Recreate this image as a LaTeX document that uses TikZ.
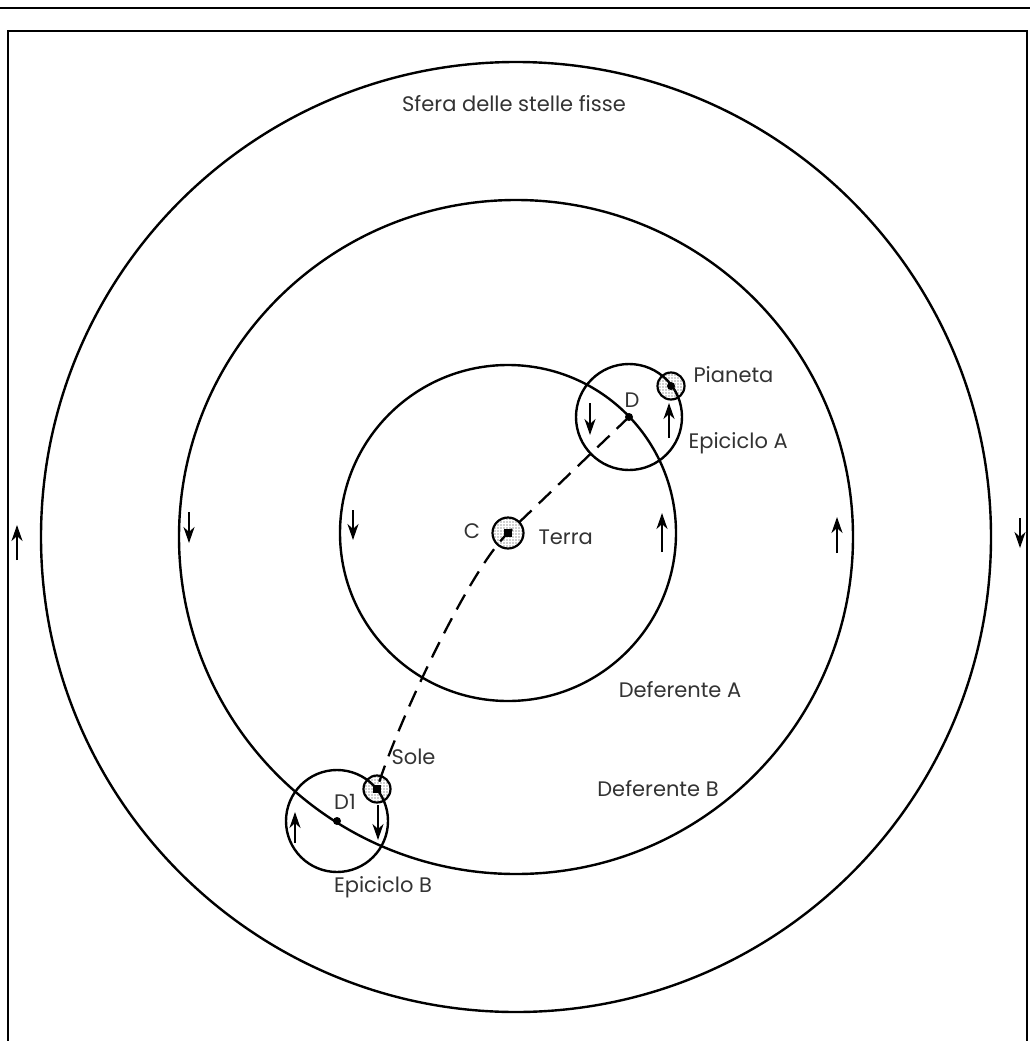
\documentclass[tikz,border=0pt]{standalone}
\usepackage{fontspec}
\setmainfont{Poppins}
\usetikzlibrary{arrows.meta, patterns.meta}

\begin{document}
\begin{tikzpicture}[x=1pt, y=-1pt, >={Stealth[length=16pt, width=11pt, inset=5pt]},
  orbit/.style={draw, line width=2.4pt},
  body/.style={circle, draw, line width=2.2pt, inner sep=0pt,
    pattern={Dots[distance=3pt, radius=0.7pt]}, pattern color=black!80},
  lbl/.style={font=\fontsize{21}{24}\selectfont, text=black!80},
  mv/.style={->, line width=2.2pt}]
\useasboundingbox (0,0) rectangle (1030,1041);
\draw[line width=2pt] (0,8) -- (1030,8);
\draw[line width=1.8pt] (8,1041) -- (8,31) -- (1027,31) -- (1027,1041);
\coordinate (O) at (516,537);
\coordinate (C) at (508,533);
\coordinate (D) at (629,417);
\coordinate (D1) at (337,821);
\draw[orbit] (O) circle[radius=475];
\draw[orbit] (O) circle[radius=337];
\draw[orbit] (C) circle[radius=168];
\draw[orbit] (D) circle[radius=53];
\draw[orbit] (D1) circle[radius=51];
\node[body, minimum size=31pt] (terra) at (C) {};
\node[body, minimum size=27pt] (pianeta) at (671,386) {};
\node[body, minimum size=27pt] (sole) at (377,789) {};
\draw[line width=2.3pt, dash pattern=on 17pt off 10pt]
  (D) -- (terra.center) .. controls (468,571) and (395,729) .. (sole.center);
\fill (terra.center) ++(-4,-4) rectangle ++(8,8);
\fill (sole.center) ++(-4,-4) rectangle ++(8,8);
\fill (pianeta.center) circle[radius=4];
\fill (D) circle[radius=4];
\fill (D1) circle[radius=4];
\draw[mv] (17,560) -- (17,525);
\draw[mv] (1020,518) -- (1020,548);
\draw[mv] (189,512) -- (189,543);
\draw[mv] (353,510) -- (353,540);
\draw[mv] (662,552) -- (662,513);
\draw[mv] (837,553) -- (837,517);
\draw[mv] (590,403) -- (590,435);
\draw[mv] (669,438) -- (669,403);
\draw[mv] (295,843) -- (295,812);
\draw[mv] (378,805) -- (378,840);
\node[lbl] (sfera) at (514,104) {Sfera delle stelle fisse};
\node[lbl, anchor=west] (pianetaL) at (690,375) {Pianeta};
\node[lbl, anchor=west] (epiA) at (685,443) {Epiciclo A};
\node[lbl] (dL) at (632,400) {D};
\node[lbl] (cL) at (472,531) {C};
\node[lbl, anchor=west] (terraL) at (535,537) {Terra};
\node[lbl] (defA) at (680,690) {Deferente A};
\node[lbl, anchor=west] (soleL) at (388,757) {Sole};
\node[lbl] (d1L) at (345,802) {D1};
\node[lbl] (epiB) at (383,887) {Epiciclo B};
\node[lbl] (defB) at (658,789) {Deferente B};
\end{tikzpicture}
\end{document}
